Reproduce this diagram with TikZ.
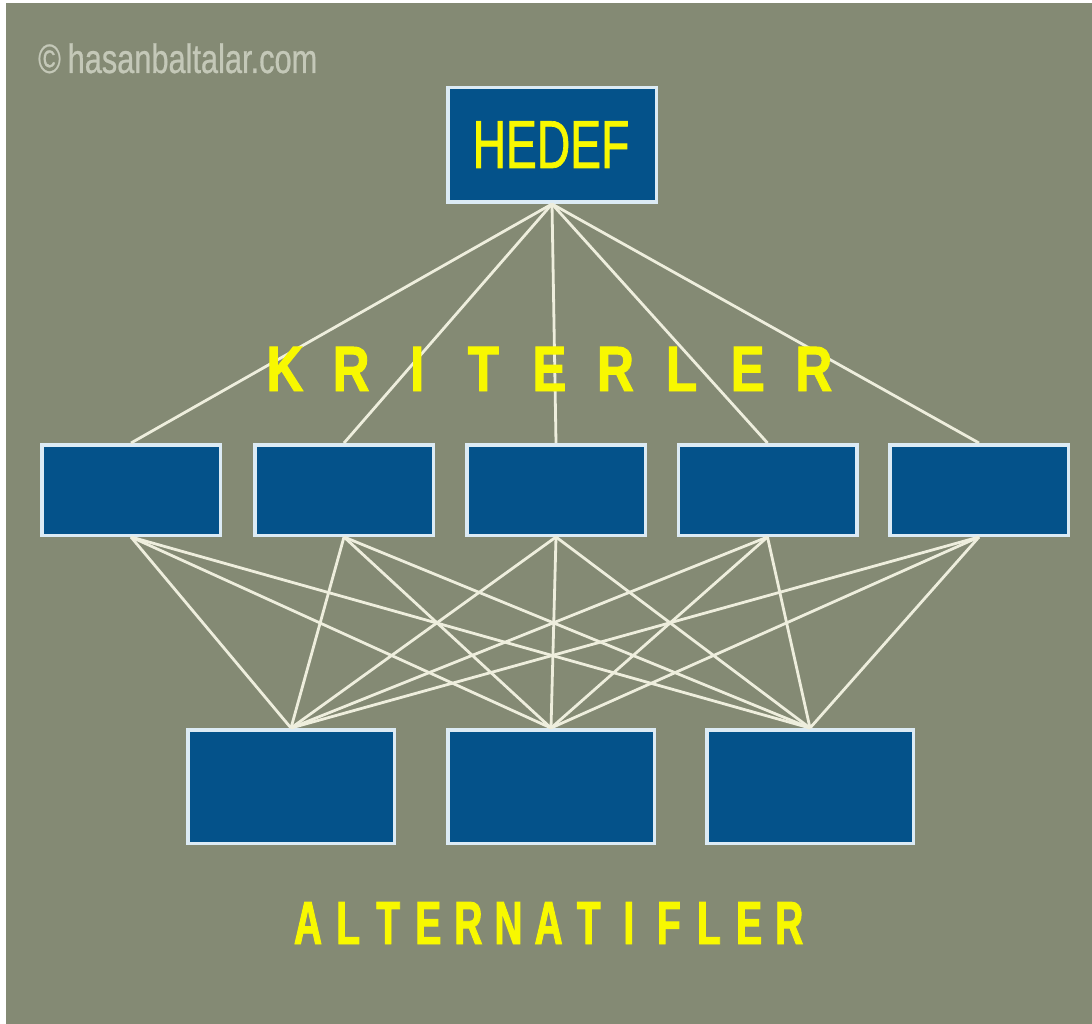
\documentclass[tikz,border=0pt]{standalone}
\usepackage{fontspec}
\setmainfont{Liberation Sans}
\newfontfamily\hedeffont[FakeStretch=0.68, FakeBold=1]{Liberation Sans}
\newfontfamily\labelfont[FakeStretch=0.8, FakeBold=1.5]{Liberation Sans}
\newfontfamily\altfont[FakeStretch=0.64, FakeBold=1.5]{Liberation Sans}
\newfontfamily\markfont[FakeStretch=0.75, FakeBold=0.6]{Liberation Sans}
\definecolor{bgOlive}{HTML}{848A74}
\definecolor{boxBlue}{HTML}{04528A}
\definecolor{boxEdge}{HTML}{DCEBF5}
\definecolor{linkWhite}{HTML}{EEEEDD}
\definecolor{txtYellow}{HTML}{F8F800}
\definecolor{markGray}{HTML}{C4C8B8}
\usetikzlibrary{positioning}

\begin{document}
\begin{tikzpicture}[x=1pt, y=-1pt,
    box/.style={draw=boxEdge, fill=boxBlue, line width=3.5pt, inner sep=0pt},
    critbox/.style={box, minimum width=178.5pt, minimum height=90.5pt},
    altbox/.style={box, minimum width=206.5pt, minimum height=113.5pt},
    link/.style={draw=linkWhite, line width=2.8pt},
    letter/.style={text=txtYellow, anchor=base, inner sep=0pt}]
        \useasboundingbox (0,0) rectangle (1092,1024);
        % Background
        \fill[white] (0,0) rectangle (1092,1024);
        \fill[bgOlive] (6,3) rectangle (1092,1024);
        % Watermark
        \node[anchor=base west, inner sep=0pt, text=markGray,
          font=\markfont\fontsize{41}{50}\selectfont] (mark) at (38,73)
          {\textcopyright\,hasanbaltalar.com};
        % Goal
        \node[box, minimum width=208.5pt, minimum height=114.5pt] (hedef) at (552,145) {};
        \node[letter, font=\hedeffont\fontsize{68}{84}\selectfont] (hedeftxt) at (551,168) {HEDEF};
        % Criteria
        \node[critbox] (k1) at (131,490) {};
        \node[critbox] (k2) at (344,490) {};
        \node[critbox] (k3) at (556,490) {};
        \node[critbox] (k4) at (767.5,490) {};
        \node[critbox] (k5) at (979,490) {};
        % Alternatives
        \node[altbox] (a1) at (291,786.5) {};
        \node[altbox] (a2) at (551,786.5) {};
        \node[altbox] (a3) at (810,786.5) {};
        % Links goal -> criteria
        \foreach \k in {1,...,5}
          \draw[link] (hedef.south) -- (k\k.north);
        % Links criteria -> alternatives
        \foreach \k in {1,...,5}
          \foreach \a in {1,2,3}
            \draw[link] (k\k.south) -- (a\a.north);
        % Labels
        \foreach \l [count=\i from 0] in {K,R,I,T,E,R,L,E,R}
          \node[letter, font=\labelfont\bfseries\fontsize{64}{70}\selectfont]
            (kr\i) at (285+66.1*\i,391) {\l};
        \foreach \l [count=\i from 0] in {A,L,T,E,R,N,A,T,I,F,L,E,R}
          \node[letter, font=\altfont\bfseries\fontsize{61}{70}\selectfont]
            (al\i) at (308+40.1*\i,944) {\l};
\end{tikzpicture}
\end{document}
